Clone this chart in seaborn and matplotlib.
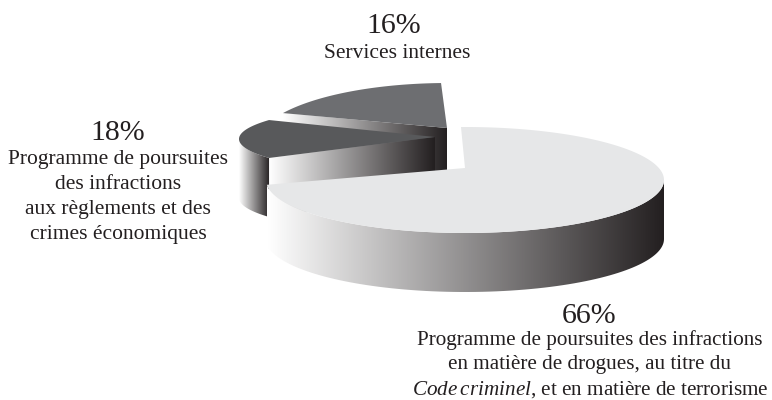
import numpy as np
import matplotlib
matplotlib.use('Agg')
import matplotlib.pyplot as plt
import seaborn as sns
from matplotlib.patches import Polygon

# shares of the budget
categories = ['Drogues et terrorisme', 'Infractions aux règlements', 'Services internes']
values = [66, 18, 16]
percent_labels = ['66%', '18%', '16%']
long_labels = [
    'Programme de poursuites des infractions\nen matière de drogues, au titre du\n'
    r'$\mathit{Code}\:\mathit{criminel}$, et en matière de terrorisme',
    'Programme de poursuites\ndes infractions\naux règlements et des\ncrimes économiques',
    'Services internes',
]
top_colors = ['#e6e7e8', '#58595b', '#6d6e71']

sns.set_theme(style='white')
plt.rcParams['font.family'] = ['Liberation Serif', 'DejaVu Serif']
plt.rcParams['mathtext.fontset'] = 'custom'
plt.rcParams['mathtext.it'] = 'Liberation Serif:italic'
plt.rcParams['mathtext.rm'] = 'Liberation Serif'

DEPTH = 59
# cx, cy, rx, ry, perspective pull, spin, apex of the slice on the page
views = [
    (465, 180, 199, 53, 0.5, 0, (465, 168)),
    (432, 139, 193, 35.4, 0, -2, (435, 137)),
    (447.7, 143.9, 191, 60.9, 0, 0, (447, 128)),
]
shade = sns.blend_palette(['#ffffff', '#231f20'], as_cmap=True)


def rim(theta1, theta2, view):
    cx, cy, rx, ry, k, spin, _ = view
    t = np.radians(np.linspace(theta1, theta2, 200) + spin)
    den = 1 + k * np.sin(t)
    x = np.cos(t) * np.sqrt(1 - k ** 2) / den
    y = (np.sin(t) + k) / den
    return np.column_stack([cx + rx * x, cy - ry * y])


def shaded(ax, pts, z):
    # horizontal gradient clipped to the polygon
    clip = Polygon(pts, closed=True, transform=ax.transData)
    im = ax.imshow(np.linspace(0, 1, 256)[None, :], cmap=shade, aspect='auto',
                   extent=(pts[:, 0].min(), pts[:, 0].max(), pts[:, 1].max(), pts[:, 1].min()),
                   zorder=z)
    im.set_clip_path(clip)


fig, ax = plt.subplots(figsize=(7.72, 4.0), dpi=100)
fig.subplots_adjust(0, 0, 1, 1)
wedges, _ = ax.pie(values, startangle=92, counterclock=False, colors=top_colors, frame=True)
angles = [(w.theta1, w.theta2) for w in wedges]
colors = [w.get_facecolor() for w in wedges]
for w in wedges:
    w.remove()
ax.set_aspect('auto')

# back to front: services internes, then the dark slice, then the big one
z = 2
drop = np.array([0, DEPTH])
for i in [2, 1, 0]:
    arc = rim(angles[i][0], angles[i][1], views[i])
    apex = np.array(views[i][6], dtype=float)
    if i > 0:
        # cut side, from the outer corner to the apex
        shaded(ax, np.array([arc[-1], apex, apex + drop, arc[-1] + drop]), z)
        z += 1
    if i < 2:
        # outer wall, only the part that faces the viewer
        wall = arc[:np.argmax(arc[:, 0]) + 1] if i == 0 else arc[np.argmin(arc[:, 0]):]
        shaded(ax, np.vstack([wall, (wall + drop)[::-1]]), z)
        z += 1
    ax.add_patch(Polygon(np.vstack([arc, apex]), closed=True, facecolor=colors[i],
                         edgecolor='none', zorder=z))
    z += 1

ax.set_xlim(0, 772)
ax.set_ylim(400, 0)
ax.axis('off')

pct_pos = [(589, 316), (117.5, 133), (394, 26)]
txt_pos = [(590, 330), (118, 150), (397, 44)]
spacing = [1.33, 1.44, 1.44]
sizes = [15.2, 15.5, 15.5]
for i in range(3):
    ax.text(pct_pos[i][0], pct_pos[i][1], percent_labels[i], ha='center', va='center',
            fontsize=21.5, color='#231f20', zorder=20)
    ax.text(txt_pos[i][0], txt_pos[i][1], long_labels[i], ha='center', va='top',
            fontsize=sizes[i], color='#231f20', linespacing=spacing[i], zorder=20)

fig.savefig('out.png', dpi=100)
